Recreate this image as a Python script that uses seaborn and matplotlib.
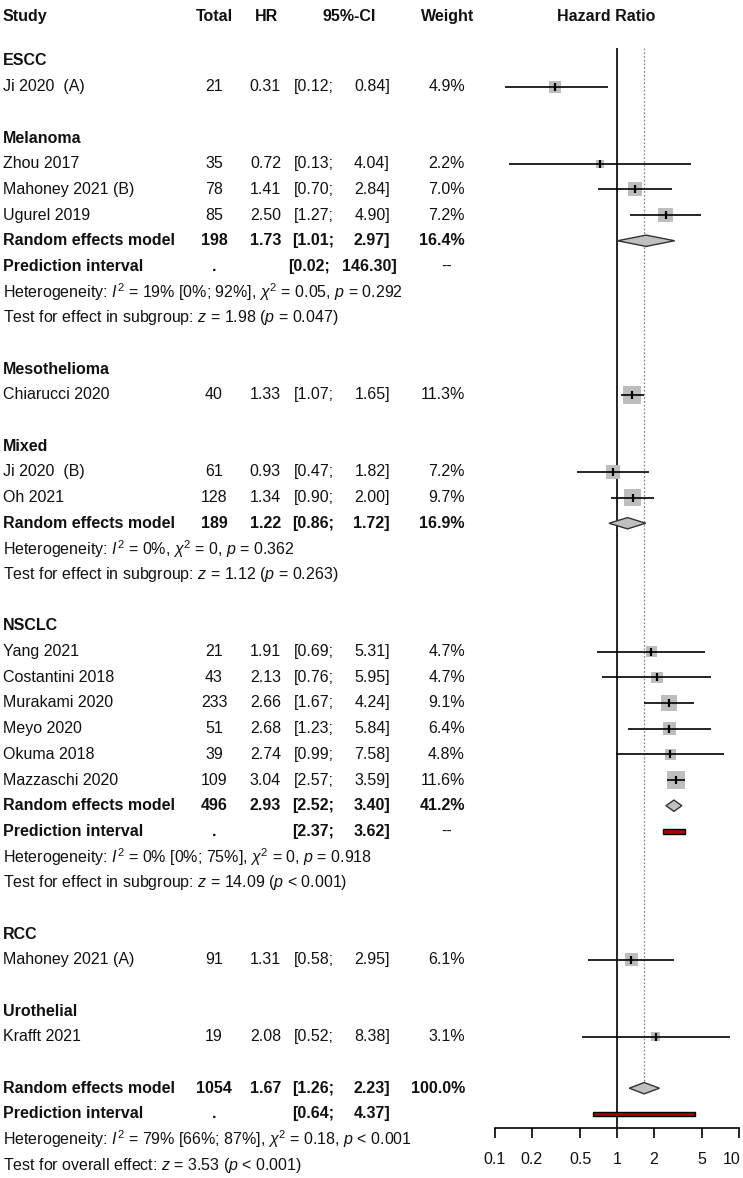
import matplotlib
matplotlib.use("Agg")
import matplotlib.pyplot as plt
import matplotlib.transforms as mtransforms
import seaborn as sns
import pandas as pd

# individual studies
study = ["Ji 2020  (A)", "Zhou 2017", "Mahoney 2021 (B)", "Ugurel 2019", "Chiarucci 2020",
         "Ji 2020  (B)", "Oh 2021", "Yang 2021", "Costantini 2018", "Murakami 2020",
         "Meyo 2020", "Okuma 2018", "Mazzaschi 2020", "Mahoney 2021 (A)", "Krafft 2021"]
group = ["ESCC", "Melanoma", "Melanoma", "Melanoma", "Mesothelioma", "Mixed", "Mixed",
         "NSCLC", "NSCLC", "NSCLC", "NSCLC", "NSCLC", "NSCLC", "RCC", "Urothelial"]
total = [21, 35, 78, 85, 40, 61, 128, 21, 43, 233, 51, 39, 109, 91, 19]
hr = [0.31, 0.72, 1.41, 2.50, 1.33, 0.93, 1.34, 1.91, 2.13, 2.66, 2.68, 2.74, 3.04, 1.31, 2.08]
ci_lo = [0.12, 0.13, 0.70, 1.27, 1.07, 0.47, 0.90, 0.69, 0.76, 1.67, 1.23, 0.99, 2.57, 0.58, 0.52]
ci_hi = [0.84, 4.04, 2.84, 4.90, 1.65, 1.82, 2.00, 5.31, 5.95, 4.24, 5.84, 7.58, 3.59, 2.95, 8.38]
weight = [4.9, 2.2, 7.0, 7.2, 11.3, 7.2, 9.7, 4.7, 4.7, 9.1, 6.4, 4.8, 11.6, 6.1, 3.1]

# pooled estimates (random effects) for subgroups and overall
pool_group = ["Melanoma", "Mixed", "NSCLC", "Overall"]
pool_total = [198, 189, 496, 1054]
pool_hr = [1.73, 1.22, 2.93, 1.67]
pool_lo = [1.01, 0.86, 2.52, 1.26]
pool_hi = [2.97, 1.72, 3.40, 2.23]
pool_weight = [16.4, 16.9, 41.2, 100.0]
pi_lo = [0.02, None, 2.37, 0.64]
pi_hi = [146.30, None, 3.62, 4.37]
het_text = [r"Heterogeneity: $I^2$ = 19% [0%; 92%], $\chi^2$ = 0.05, $p$ = 0.292",
            r"Heterogeneity: $I^2$ = 0%, $\chi^2$ = 0, $p$ = 0.362",
            r"Heterogeneity: $I^2$ = 0% [0%; 75%], $\chi^2$ = 0, $p$ = 0.918",
            r"Heterogeneity: $I^2$ = 79% [66%; 87%], $\chi^2$ = 0.18, $p$ < 0.001"]
test_text = [r"Test for effect in subgroup: $z$ = 1.98 ($p$ = 0.047)",
             r"Test for effect in subgroup: $z$ = 1.12 ($p$ = 0.263)",
             r"Test for effect in subgroup: $z$ = 14.09 ($p$ < 0.001)",
             r"Test for overall effect: $z$ = 3.53 ($p$ < 0.001)"]

ticks = [0.1, 0.2, 0.5, 1, 2, 5, 10]
tick_labels = ["0.1", "0.2", "0.5", "1", "2", "5", "10"]

df = pd.DataFrame(dict(study=study, group=group, total=total, hr=hr,
                       lo=ci_lo, hi=ci_hi, weight=weight))

# layout: one row per line of the table
pidx = {g: i for i, g in enumerate(pool_group)}
lines = []
r = 0
rows = {}
for g in df.group.unique():
    lines.append((r, "heading", g)); r += 1
    for i in df.index[df.group == g]:
        rows[i] = r
        lines.append((r, "study", i)); r += 1
    if g in pidx:
        k = pidx[g]
        lines.append((r, "pool", k)); r += 1
        if pi_lo[k] is not None:
            lines.append((r, "pi", k)); r += 1
        lines.append((r, "het", k)); r += 1
        lines.append((r, "test", k)); r += 1
    r += 1
k = pidx["Overall"]
for kind in ["pool", "pi", "het", "test"]:
    lines.append((r, kind, k)); r += 1
df["row"] = df.index.map(rows)

sns.set_theme(style="white")
plt.rcParams["font.family"] = ["Liberation Sans", "DejaVu Sans"]
plt.rcParams["mathtext.fontset"] = "custom"
plt.rcParams["mathtext.rm"] = "Liberation Sans"
plt.rcParams["mathtext.it"] = "Liberation Sans:italic"
plt.rcParams["mathtext.bf"] = "Liberation Sans:bold"

W, H = 743, 1178
ROW0, STEP = 61, 25.68
AXIS_Y = 1128
FS = 11.5
TXT = "#111111"

fig = plt.figure(figsize=(W / 100, H / 100), dpi=100)

# text table
tab = fig.add_axes([0, 0, 1, 1])
tab.set_xlim(0, W)
tab.set_ylim((H - ROW0) / STEP, -ROW0 / STEP)
tab.axis("off")

def put(x, y, s, ha="left", bold=False):
    tab.text(x, y, s, ha=ha, va="center", fontsize=FS, color=TXT,
             fontweight="bold" if bold else "normal")

def put_ci(y, lo, hi, bold=False):
    hs = f"{hi:.2f}]"
    extra = len(hs) - 5  # wider upper bound pushes the column apart
    put(334 - 2 * extra, y, f"[{lo:.2f};", "right", bold)
    put(390 + 3.5 * extra, y, hs, "right", bold)

hy = (17 - ROW0) / STEP
put(3, hy, "Study", bold=True)
put(214, hy, "Total", "center", True)
put(267, hy, "HR", "center", True)
put(349, hy, "95%-CI", "center", True)
put(448, hy, "Weight", "center", True)
put(606, hy, "Hazard Ratio", "center", True)

X_TOT, X_HR, X_W = 214, 281, 465

for y, kind, k in lines:
    if kind == "heading":
        put(3, y, k, bold=True)
    elif kind == "study":
        d = df.loc[k]
        put(3, y, d.study)
        put(X_TOT, y, f"{d.total}", "center")
        put(X_HR, y, f"{d.hr:.2f}", "right")
        put_ci(y, d.lo, d.hi)
        put(X_W, y, f"{d.weight:.1f}%", "right")
    elif kind == "pool":
        put(3, y, "Random effects model", bold=True)
        put(X_TOT, y, f"{pool_total[k]}", "center", True)
        put(X_HR, y, f"{pool_hr[k]:.2f}", "right", True)
        put_ci(y, pool_lo[k], pool_hi[k], True)
        put(X_W, y, f"{pool_weight[k]:.1f}%", "right", True)
    elif kind == "pi":
        put(3, y, "Prediction interval", bold=True)
        put(X_TOT, y, ".", "center", True)
        put_ci(y, pi_lo[k], pi_hi[k], True)
        if pool_group[k] != "Overall":
            put(447, y, "--", "center")
    elif kind == "het":
        put(3, y, het_text[k])
    elif kind == "test":
        put(3, y, test_text[k])

# forest panel
fax = fig.add_axes([495 / W, (H - AXIS_Y) / H, 244 / W, AXIS_Y / H])
fax.patch.set_visible(False)
fax.set_xscale("log")
fax.set_xlim(0.1, 10)
fax.set_ylim((AXIS_Y - ROW0) / STEP, -ROW0 / STEP)

sns.scatterplot(data=df, x="hr", y="row", size="weight", size_norm=(0, 12),
                sizes=(0, 14.5 * 12), marker="s", color="#bdbdbd",
                edgecolor="none", legend=False, ax=fax, zorder=2)
fax.hlines(df.row, df.lo, df.hi, color="black", lw=1.2, zorder=3)
fax.plot(df.hr, df.row, ls="none", marker="|", ms=6, mew=1.6, color="black", zorder=4)

top = -0.5
for y, kind, k in lines:
    if kind == "pool":
        h = 0.22
        fax.fill([pool_lo[k], pool_hr[k], pool_hi[k], pool_hr[k]],
                 [y, y - h, y, y + h], facecolor="#c0c0c0",
                 edgecolor="#333333", lw=1.0, zorder=5)
        if pool_group[k] == "Overall":
            fax.vlines(pool_hr[k], top, y - h, color="#888888", lw=0.9,
                       linestyles=(0, (1.5, 1.5)), zorder=1)
    elif kind == "pi" and pi_lo[k] >= 0.1 and pi_hi[k] <= 10:
        fax.barh(y, pi_hi[k] - pi_lo[k], left=pi_lo[k], height=0.17,
                 color="#b00000", edgecolor="black", lw=1.0, zorder=5)

fax.vlines(1, top, (AXIS_Y - ROW0) / STEP, color="black", lw=1.2, zorder=1)

for s in ["left", "top", "right"]:
    fax.spines[s].set_visible(False)
fax.spines["bottom"].set_color("black")
fax.spines["bottom"].set_linewidth(1.2)
fax.set_xticks(ticks)
fax.set_xticklabels(tick_labels)
fax.minorticks_off()
fax.set_yticks([])
fax.set_xlabel("")
fax.set_ylabel("")
fax.tick_params(axis="x", direction="out", length=7, width=1.2, color="black",
                pad=10, labelsize=FS, labelcolor=TXT, bottom=True)
# keep the last label inside the figure
last = fax.get_xticklabels()[-1]
last.set_transform(last.get_transform() +
                   mtransforms.ScaledTranslation(-5 / 72, 0, fig.dpi_scale_trans))

fig.savefig("out.png", dpi=100)
